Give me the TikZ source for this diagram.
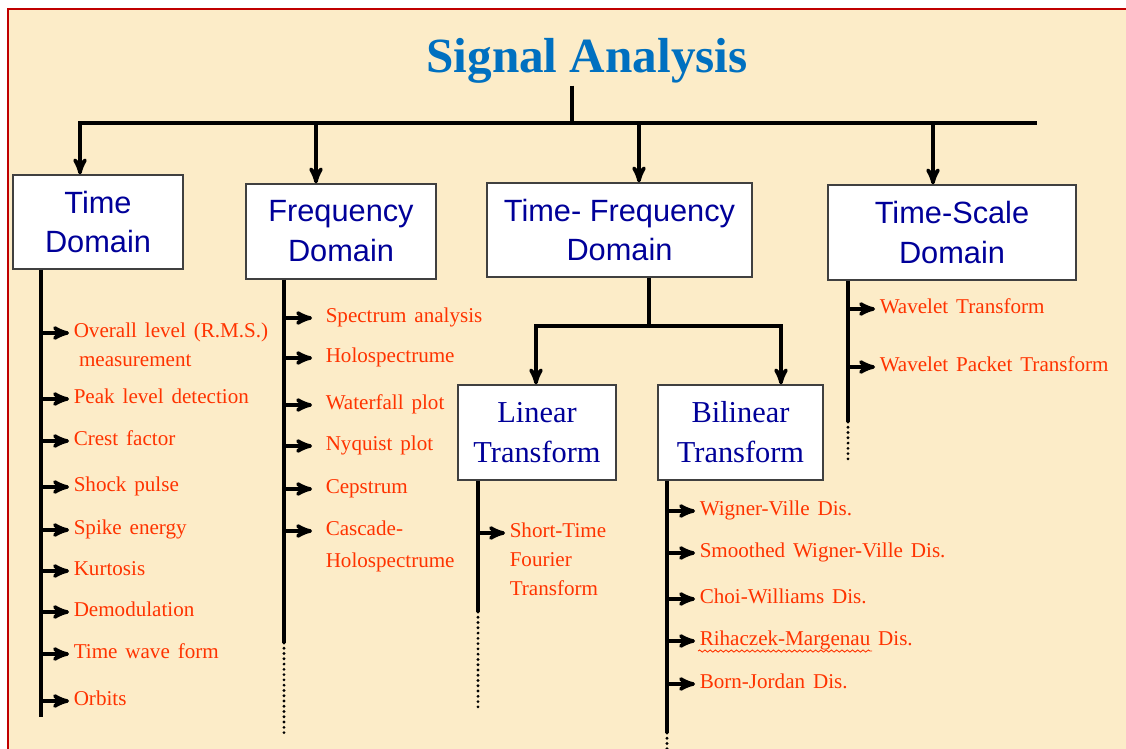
\documentclass[tikz,border=0pt]{standalone}
\usepackage{fontspec}
\setmainfont{Liberation Serif}
\newfontfamily\boxfont{Liberation Sans}
\newfontfamily\leaffont[WordSpace=1.5]{Liberation Serif}
\usetikzlibrary{arrows,positioning,calc,decorations.pathmorphing}
\definecolor{bgbeige}{HTML}{FCECC8}
\definecolor{framered}{HTML}{C00000}
\definecolor{titleblue}{HTML}{0070C0}
\definecolor{boxblue}{HTML}{000099}
\definecolor{leafred}{HTML}{FF3300}
% lines stacked under the first one, baseline on the first line
\newcommand{\leafstack}[1]{\vtop{\halign{##\hfil\cr#1\crcr}}}

\begin{document}
\begin{tikzpicture}[x=0.02cm,y=-0.02cm,>=stealth',line width=2pt,
    domainbox/.style={draw=black!75, line width=0.7pt, fill=white, text=boxblue, align=center,
      inner sep=0pt, font=\boxfont\fontsize{17.5}{22.7}\selectfont},
    transfbox/.style={domainbox, font=\fontsize{17.3}{22.7}\selectfont},
    leaf/.style={anchor=mid west, inner sep=0pt, text=leafred,
      font=\leaffont\fontsize{12}{16.5}\selectfont},
    twig/.style={->, shorten >=1.7pt},
    more/.style={line width=1.8pt, line cap=round, dash pattern=on 0pt off 3pt},
    squiggle/.style={leafred, line width=0.5pt, decorate,
      decoration={snake, segment length=3pt, amplitude=0.6pt}}]
      \useasboundingbox (0,0) rectangle (1126,749);
      \fill[white] (0,0) rectangle (1126,749);
      \fill[bgbeige] (8,9) rectangle (1126,749);
      \draw[framered, line width=0.9pt] (8,749) -- (8,9) -- (1126,9);

      \node[font=\bfseries\fontsize{28}{32}\selectfont, text=titleblue, inner sep=0pt, anchor=base] (title) at (587,73) {Signal Analysis};

      % domain boxes
      \node[domainbox, minimum width=3.4cm, minimum height=1.88cm] (time) at (98,222) {Time\\Domain};
      \node[domainbox, minimum width=3.8cm, minimum height=1.9cm] (freq) at (341,231.5) {Frequency\\Domain};
      \node[domainbox, minimum width=5.3cm, minimum height=1.88cm] (tf) at (619.5,230) {Time- Frequency\\Domain};
      \node[domainbox, minimum width=4.96cm, minimum height=1.9cm] (ts) at (952,232.5) {Time-Scale\\Domain};
      \node[transfbox, minimum width=3.16cm, minimum height=1.9cm] (lin) at (537,432.5) {Linear\\Transform};
      \node[transfbox, minimum width=3.3cm, minimum height=1.9cm] (bil) at (740.5,432.5) {Bilinear\\Transform};

      % main bus
      \coordinate (busTop) at (572,123);
      \coordinate (busL) at (80,123);
      \coordinate (busR) at (1037,123);
      \coordinate (busF) at (316,123);
      \coordinate (busTF) at (639,123);
      \coordinate (busTS) at (933,123);
      \draw (busTop |- title.south) -- (busTop);
      \draw[->] (busTop) -- (busL) -- (busL |- time.north);
      \draw (busTop) -- (busR);
      \draw[->] (busF) -- (busF |- freq.north);
      \draw[->] (busTF) -- (busTF |- tf.north);
      \draw[->] (busTS) -- (busTS |- ts.north);

      % time-frequency split
      \coordinate (tfMid) at (649,326);
      \coordinate (tfL) at (536,326);
      \coordinate (tfR) at (781,326);
      \draw (tfMid |- tf.south) -- (tfMid);
      \draw[->] (tfMid) -- (tfL) -- (tfL |- lin.north);
      \draw[->] (tfMid) -- (tfR) -- (tfR |- bil.north);

      % spines
      \coordinate (tdEnd) at (41,717);
      \coordinate (fdEnd) at (284,643);
      \coordinate (fdDots) at (284,737);
      \coordinate (linEnd) at (478,612);
      \coordinate (linDots) at (478,708);
      \coordinate (bilEnd) at (667,733);
      \coordinate (bilDots) at (667,749);
      \coordinate (tsEnd) at (848,422);
      \coordinate (tsDots) at (848,462);
      \draw (tdEnd |- time.south) -- (tdEnd);
      \draw (fdEnd |- freq.south) -- (fdEnd);
      \draw[more] (fdEnd) -- (fdDots);
      \draw (linEnd |- lin.south) -- (linEnd);
      \draw[more] (linEnd) -- (linDots);
      \draw (bilEnd |- bil.south) -- (bilEnd);
      \draw[more] (bilEnd) -- (bilDots);
      \draw (tsEnd |- ts.south) -- (tsEnd);
      \draw[more] (tsEnd) -- (tsDots);

      % time domain
      \node[leaf] (rms) at (72,333) {\leafstack{Overall level (R.M.S.)\cr\hspace{3pt}measurement}};
      \node[leaf] (peak) at (72,399) {Peak level detection};
      \node[leaf] (crest) at (72,441) {Crest factor};
      \node[leaf] (shock) at (72,487) {Shock pulse};
      \node[leaf] (spike) at (72,530) {Spike energy};
      \node[leaf] (kurt) at (72,571) {Kurtosis};
      \node[leaf] (demod) at (72,612) {Demodulation};
      \node[leaf] (wave) at (72,654) {Time wave form};
      \node[leaf] (orbit) at (72,701) {Orbits};
      \draw[twig] (rms.mid west -| tdEnd) -- (rms.mid west);
      \draw[twig] (peak.mid west -| tdEnd) -- (peak.mid west);
      \draw[twig] (crest.mid west -| tdEnd) -- (crest.mid west);
      \draw[twig] (shock.mid west -| tdEnd) -- (shock.mid west);
      \draw[twig] (spike.mid west -| tdEnd) -- (spike.mid west);
      \draw[twig] (kurt.mid west -| tdEnd) -- (kurt.mid west);
      \draw[twig] (demod.mid west -| tdEnd) -- (demod.mid west);
      \draw[twig] (wave.mid west -| tdEnd) -- (wave.mid west);
      \draw[twig] (orbit.mid west -| tdEnd) -- (orbit.mid west);

      % frequency domain
      \node[leaf] (spec) at (324,318) {Spectrum analysis};
      \node[leaf] (holo) at (324,358) {Holospectrume};
      \node[leaf] (water) at (324,405) {Waterfall plot};
      \node[leaf] (nyq) at (324,446) {Nyquist plot};
      \node[leaf] (ceps) at (324,489) {Cepstrum};
      \node[leaf, font=\leaffont\fontsize{12}{18.7}\selectfont] (casc) at (324,531) {\leafstack{Cascade-\cr Holospectrume}};
      \draw[twig, shorten >=6.8pt] (spec.mid west -| fdEnd) -- (spec.mid west);
      \draw[twig, shorten >=6.8pt] (holo.mid west -| fdEnd) -- (holo.mid west);
      \draw[twig, shorten >=6.8pt] (water.mid west -| fdEnd) -- (water.mid west);
      \draw[twig, shorten >=6.8pt] (nyq.mid west -| fdEnd) -- (nyq.mid west);
      \draw[twig, shorten >=6.8pt] (ceps.mid west -| fdEnd) -- (ceps.mid west);
      \draw[twig, shorten >=6.8pt] (casc.mid west -| fdEnd) -- (casc.mid west);

      % linear transform
      \node[leaf] (stft) at (508,533) {\leafstack{Short-Time\cr Fourier\cr Transform}};
      \draw[twig] (stft.mid west -| linEnd) -- (stft.mid west);

      % bilinear transform
      \node[leaf] (wv) at (698,511) {Wigner-Ville Dis.};
      \node[leaf] (swv) at (698,553) {Smoothed Wigner-Ville Dis.};
      \node[leaf] (cw) at (698,599) {Choi-Williams Dis.};
      \node[leaf] (rm) at (698,641) {Rihaczek-Margenau Dis.};
      \node[leaf] (bj) at (698,684) {Born-Jordan Dis.};
      \draw[twig] (wv.mid west -| bilEnd) -- (wv.mid west);
      \draw[twig] (swv.mid west -| bilEnd) -- (swv.mid west);
      \draw[twig] (cw.mid west -| bilEnd) -- (cw.mid west);
      \draw[twig] (rm.mid west -| bilEnd) -- (rm.mid west);
      \draw[twig] (bj.mid west -| bilEnd) -- (bj.mid west);
      \draw[squiggle] (rm.base west) ++(0,6) -- ++(174,0);

      % time-scale domain
      \node[leaf] (wt) at (878,309) {Wavelet Transform};
      \node[leaf] (wpt) at (878,367) {Wavelet Packet Transform};
      \draw[twig] (wt.mid west -| tsEnd) -- (wt.mid west);
      \draw[twig] (wpt.mid west -| tsEnd) -- (wpt.mid west);
\end{tikzpicture}
\end{document}
